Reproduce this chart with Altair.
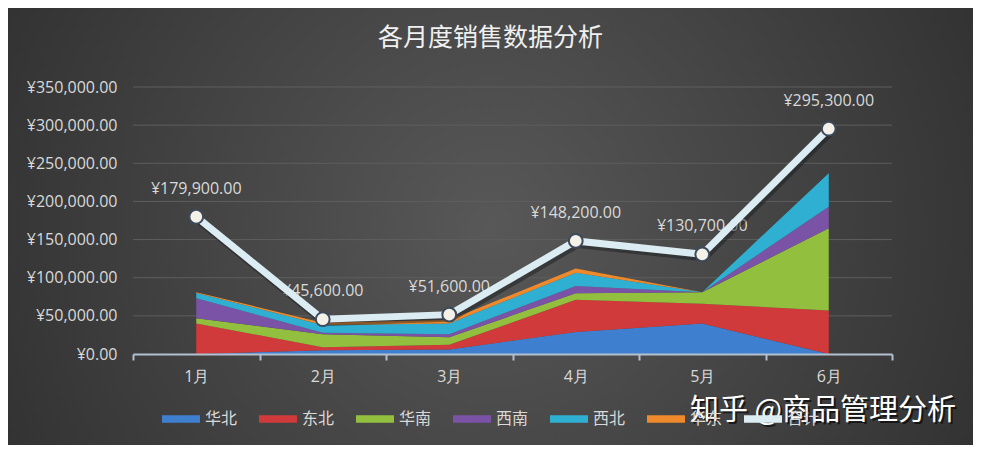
import altair as alt
import pandas as pd

months = ["1月", "2月", "3月", "4月", "5月", "6月"]
regions = ["华北", "东北", "华南", "西南", "西北", "华东"]
huabei = [0, 5000, 6000, 29000, 40000, 0]
dongbei = [40000, 4000, 6000, 42000, 26000, 57000]
huanan = [7000, 17000, 10000, 8500, 15000, 108000]
xinan = [26000, 2000, 4000, 9500, 0, 28000]
xibei = [7000, 10000, 14000, 17600, 0, 44000]
huadong = [1000, 3000, 4500, 5400, 0, 0]
total = [179900, 45600, 51600, 148200, 130700, 295300]
y_ticks = [0, 50000, 100000, 150000, 200000, 250000, 300000, 350000]

series_lists = [huabei, dongbei, huanan, xinan, xibei, huadong]
colors = ["#3f7fd0", "#d13a3a", "#93bf3f", "#7b53a6", "#2fb0d3", "#ee8a2c", "#dcecf3"]
legend_domain = regions + ["合计"]

rows = []
for ri, (name, vals) in enumerate(zip(regions, series_lists)):
    for m, v in zip(months, vals):
        rows.append({"month": m, "region": name, "value": v, "idx": ri})
area_df = pd.DataFrame(rows)
total_df = pd.DataFrame({"month": months, "total": total})
grid_df = pd.DataFrame({"v": y_ticks[1:]})

W, H = 759, 267
PL, PT, PR, PB = 125, 79, 81, 91

x_enc = alt.X(
    "month:N",
    sort=months,
    bandPosition=0.5,
    scale=alt.Scale(type="band", paddingInner=0, paddingOuter=0),
    axis=alt.Axis(
        title=None, labelAngle=0, tickBand="extent", grid=False,
        domainColor="#b4bfcf", domainWidth=2, tickColor="#b4bfcf", tickWidth=2,
        tickSize=6, labelPadding=8, labelColor="#d9d9d9", labelFont="Open Sans",
        labelFontSize=16, zindex=1,
    ),
)
y_scale = alt.Scale(domain=[0, 350000], nice=False, zero=True)
y_axis = alt.Axis(
    title=None, values=y_ticks, grid=False, domain=False, ticks=False,
    labelExpr="'¥' + format(datum.value, ',.2f')", labelPadding=16,
    labelOverlap=False, labelFlush=False, labelBound=False,
    labelColor="#d9d9d9", labelFont="Open Sans", labelFontSize=16, zindex=1,
)

bg_grad = alt.RadialGradient(
    gradient="radial",
    stops=[
        alt.GradientStop(offset=0, color="#585858"),
        alt.GradientStop(offset=1, color="#252525"),
    ],
    x1=0.5, y1=0.5, r1=0, x2=0.5, y2=0.5, r2=0.75,
)
bg = alt.Chart(pd.DataFrame({"a": [0]})).mark_rect(fill=bg_grad).encode(
    x=alt.value(-PL), x2=alt.value(W + PR), y=alt.value(-PT), y2=alt.value(H + PB)
)

grid = alt.Chart(grid_df).mark_rule(color="#5e5e5e", strokeWidth=1).encode(
    y=alt.Y("v:Q", scale=y_scale, axis=y_axis)
)

areas = alt.Chart(area_df).mark_area(opacity=1).encode(
    x=x_enc,
    y=alt.Y("value:Q", stack="zero", scale=y_scale, axis=y_axis),
    color=alt.Color(
        "region:N",
        scale=alt.Scale(domain=legend_domain, range=colors),
        legend=alt.Legend(
            title=None, orient="none", legendX=29, legendY=313, direction="horizontal",
            symbolType="M-1,-0.2L1,-0.2L1,0.2L-1,0.2Z", symbolSize=1444,
            symbolStrokeWidth=0, symbolOpacity=1, labelOffset=5, columnPadding=21,
            labelColor="#d9d9d9", labelFont="Noto Sans CJK SC", labelFontSize=16,
        ),
    ),
    order=alt.Order("idx:Q", sort="ascending"),
)

base_total = alt.Chart(total_df).transform_calculate(
    label="'¥' + format(datum.total, ',.2f')"
)
y_total = alt.Y("total:Q", scale=y_scale, axis=y_axis)

labels = base_total.mark_text(
    dy=-28, font="Open Sans", fontSize=16, color="#d9d9d9"
).encode(x=x_enc, y=y_total, text="label:N")

shadow = base_total.mark_line(
    color="#15181c", opacity=0.45, strokeWidth=8, xOffset=2, yOffset=3
).encode(x=x_enc, y=y_total)

line = base_total.mark_line(strokeWidth=7).encode(
    x=x_enc,
    y=y_total,
    color=alt.ColorDatum("合计", type="nominal"),
)

points = base_total.mark_point(
    filled=True, fill="#f4f1e8", stroke="#3d4a5c", strokeWidth=2, size=190, opacity=1
).encode(x=x_enc, y=y_total)

wm_df = pd.DataFrame({"t": ["知乎 @商品管理分析"]})
wm_shadow = alt.Chart(wm_df).mark_text(
    align="left", baseline="middle", font="Noto Sans CJK SC", fontSize=29,
    color="#000000", opacity=0.6
).encode(x=alt.value(559), y=alt.value(326), text="t:N")
wm = alt.Chart(wm_df).mark_text(
    align="left", baseline="middle", font="Noto Sans CJK SC", fontSize=29,
    color="#ffffff"
).encode(x=alt.value(557), y=alt.value(324), text="t:N")

chart = alt.layer(bg, grid, areas, labels, shadow, line, points, wm_shadow, wm).properties(
    width=W,
    height=H,
    padding={"left": PL, "top": PT, "right": PR, "bottom": PB},
    autosize=alt.AutoSizeParams(type="none"),
    title=alt.TitleParams(
        text="各月度销售数据分析", font="Noto Sans CJK SC", fontSize=25,
        fontWeight="normal", color="#f0f0f0", anchor="middle", dx=-22,
        baseline="middle", offset=-55,
    ),
).configure(background="#3a3a3a").configure_view(stroke=None)

chart.save("out.html", embed_options={"renderer": "svg", "actions": False})
